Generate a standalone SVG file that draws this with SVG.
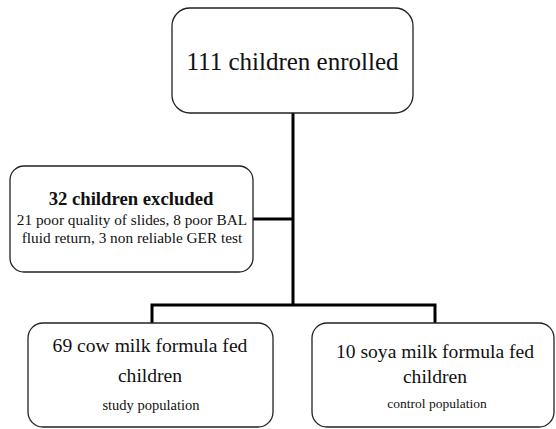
<svg xmlns="http://www.w3.org/2000/svg" width="556" height="429" viewBox="0 0 556 429">
<style>
.box{fill:#fff;stroke:#222;stroke-width:1.3}
.t{font-family:"Liberation Serif","Times New Roman",serif;fill:#111;text-anchor:middle}
.c{stroke:#000;stroke-width:3;fill:none}
</style>
<rect width="556" height="429" fill="#fff"/>
<g id="connectors">
<line class="c" x1="293" y1="113" x2="293" y2="306"/>
<line class="c" x1="253" y1="219" x2="293" y2="219"/>
<polyline class="c" points="152,323 152,305 435,305 435,323"/>
</g>
<g id="enrolled">
<rect class="box" x="172" y="8" width="241" height="105" rx="18"/>
<text class="t" x="292.5" y="70" font-size="25">111 children enrolled</text>
</g>
<g id="excluded">
<rect class="box" x="10" y="166" width="243" height="106" rx="14"/>
<text class="t" x="131" y="205" font-size="18.7" font-weight="bold">32 children excluded</text>
<text class="t" x="132" y="225" font-size="15.3">21 poor quality of slides, 8 poor BAL</text>
<text class="t" x="132" y="243" font-size="15.3">fluid return, 3 non reliable GER test</text>
</g>
<g id="cow">
<rect class="box" x="28" y="323" width="245" height="104" rx="15"/>
<text class="t" x="150" y="352" font-size="19.6">69 cow milk formula fed</text>
<text class="t" x="150" y="382" font-size="19.6">children</text>
<text class="t" x="151" y="410" font-size="14.5">study population</text>
</g>
<g id="soya">
<rect class="box" x="312" y="323" width="242" height="104" rx="15"/>
<text class="t" x="435" y="358" font-size="19.6">10 soya milk formula fed</text>
<text class="t" x="435" y="383" font-size="19.6">children</text>
<text class="t" x="437" y="408" font-size="13.5">control population</text>
</g>
</svg>
